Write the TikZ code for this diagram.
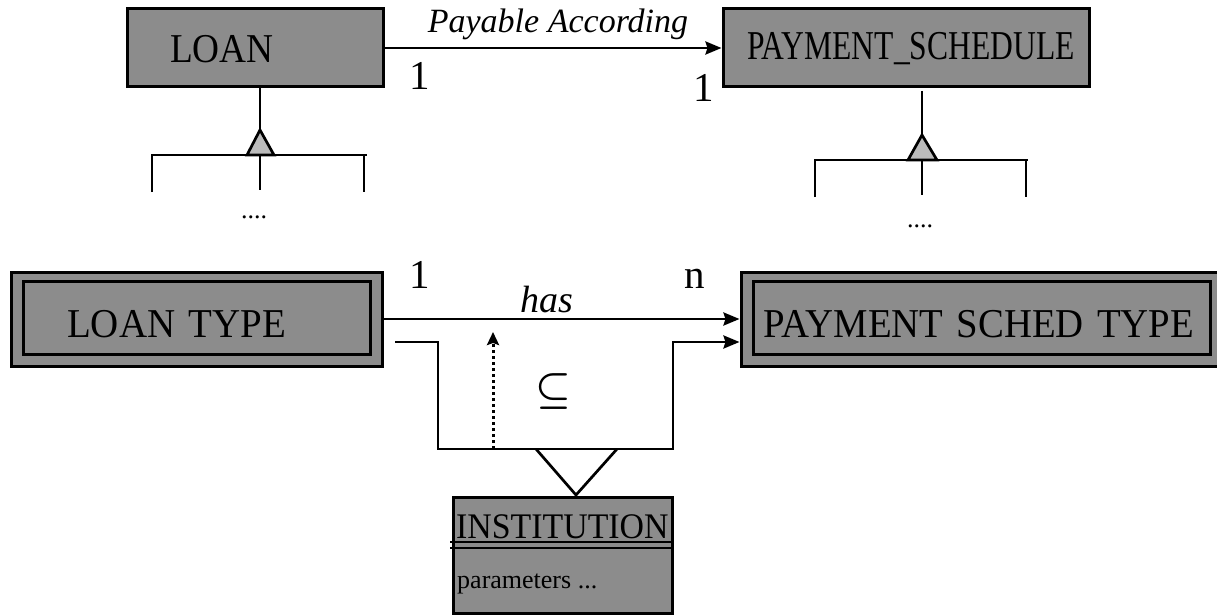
\documentclass[tikz,border=0pt]{standalone}
\usepackage{fontspec}
\setmainfont{Liberation Serif}
\usetikzlibrary{arrows.meta}
\definecolor{boxgray}{RGB}{140,140,140}
\definecolor{trigray}{RGB}{187,187,187}
\tikzset{
  ent/.style={draw=black, fill=boxgray, line width=3pt, inner sep=0pt},
  inner/.style={draw=black, line width=3pt},
  conn/.style={line width=2.7pt, line join=miter},
  arr/.style={conn, -{Stealth[length=16pt,width=13pt,inset=2pt]}},
  dotarr/.style={line width=3pt, dash pattern=on 3pt off 3pt, -{Stealth[length=13pt,width=12pt,inset=2pt]}},
  big/.style={font=\fontsize{41}{45}\selectfont, inner sep=0pt},
  mid/.style={font=\fontsize{36}{40}\selectfont, inner sep=0pt},
  rel/.style={font=\fontsize{34}{38}\selectfont\itshape, inner sep=0pt},
  small/.style={font=\fontsize{26}{30}\selectfont, inner sep=0pt},
  dots/.style={font=\fontsize{26}{30}\selectfont, inner sep=0pt},
  isa/.style={conn, fill=trigray}
}
\begin{document}
\begin{tikzpicture}[x=1pt,y=-1pt]
\useasboundingbox (0,0) rectangle (1217,615);

% ---- top entities
\node[ent, minimum width=256pt, minimum height=78pt] (loan) at (255,48) {};
\node[big, anchor=base west] (loantxt) at (170,63) {\scalebox{0.91}[1]{LOAN}};
\node[ent, minimum width=366pt, minimum height=78pt] (ps) at (906,48) {};
\node[big, anchor=base west] (pstxt) at (747,60) {\scalebox{0.77}[1]{PAYMENT\_SCHEDULE}};

% relationship Payable According
\draw[arr] (loan.east) -- (ps.west);
\node[rel, anchor=base] (payable) at (558,33) {Payable According};
\node[big, anchor=base] (c1a) at (420,90) {1};
\node[big, anchor=base] (c1b) at (704,102) {1};

% LOAN hierarchy
\coordinate (la) at (260,130);
\coordinate (lbl) at (247,155);
\coordinate (lbr) at (274,155);
\draw[conn] (loan.south -| la) -- (la);
\draw[conn] (152,192) -- (152,155) -- (367,155);
\draw[conn] (364,155) -- (364,192);
\draw[conn] (260,155) -- (260,190);
\draw[isa] (la) -- (lbl) -- (lbr) -- cycle;
\node[dots, anchor=base] (ldots) at (254,218) {....};

% PAYMENT_SCHEDULE hierarchy
\coordinate (pa) at (922,135);
\coordinate (pbl) at (908,160);
\coordinate (pbr) at (937,160);
\draw[conn] (922,91) -- (pa);
\draw[conn] (815,197) -- (815,160) -- (1028,160);
\draw[conn] (1026,160) -- (1026,197);
\draw[conn] (922,160) -- (922,195);
\draw[isa] (pa) -- (pbl) -- (pbr) -- cycle;
\node[dots, anchor=base] (pdots) at (920,227) {....};

% ---- bottom entities
\node[ent, minimum width=371pt, minimum height=94pt] (lt) at (196.5,319) {};
\draw[inner] ([shift={(14,11)}]lt.north west) rectangle ([shift={(-13,-13)}]lt.south east);
\node[big, anchor=base west] (lttxt) at (67,337) {\scalebox{0.95}[1]{LOAN\hspace{4pt} TYPE}};

\node[ent, minimum width=481pt, minimum height=94pt] (pst) at (981.5,319) {};
\draw[inner] ([shift={(14,11)}]pst.north west) rectangle ([shift={(-13,-13)}]pst.south east);
\node[big, anchor=base west] (psttxt) at (763,337) {\scalebox{0.945}[1]{PAYMENT\hspace{4pt} SCHED\hspace{4pt} TYPE}};

% has relationship
\draw[arr] (lt.east) -- (pst.west);
\node[rel, font=\fontsize{38}{42}\selectfont\itshape, anchor=base] (has) at (547,312) {has};
\node[big, anchor=base] (c1c) at (420,288) {1};
\node[big, anchor=base] (cn) at (695,288) {n};

% constraint path
\coordinate (s0) at (395,342);
\coordinate (s1) at (438,342);
\coordinate (s2) at (438,449);
\coordinate (s3) at (673,449);
\coordinate (s4) at (673,342);
\draw[arr] (s0) -- (s1) -- (s2) -- (s3) -- (s4) -- ([yshift=-23pt]pst.west);

% dotted arrow
\coordinate (d0) at (493,449);
\coordinate (d1) at (493,332);
\draw[dotarr] (d0) -- (d1);

\node[inner sep=0pt] (sub) at (553,391) {\scalebox{4}{\boldmath$\subseteq$}};

% INSTITUTION
\node[ent, minimum width=219pt, minimum height=116pt] (inst) at (562.5,555) {};
\coordinate (tl) at (536,449);
\coordinate (tp) at (576,495);
\coordinate (tr) at (617,449);
\draw[conn] (tl) -- (tp) -- (tr);
\draw[conn] (450,542) -- (673,542);
\draw[conn] (450,548) -- (673,548);
\node[mid, anchor=base west] (insttxt) at (456,538) {\scalebox{0.94}[1]{INSTITUTION}};
\node[small, anchor=base west] (params) at (457,588) {parameters ...};
\end{tikzpicture}
\end{document}
